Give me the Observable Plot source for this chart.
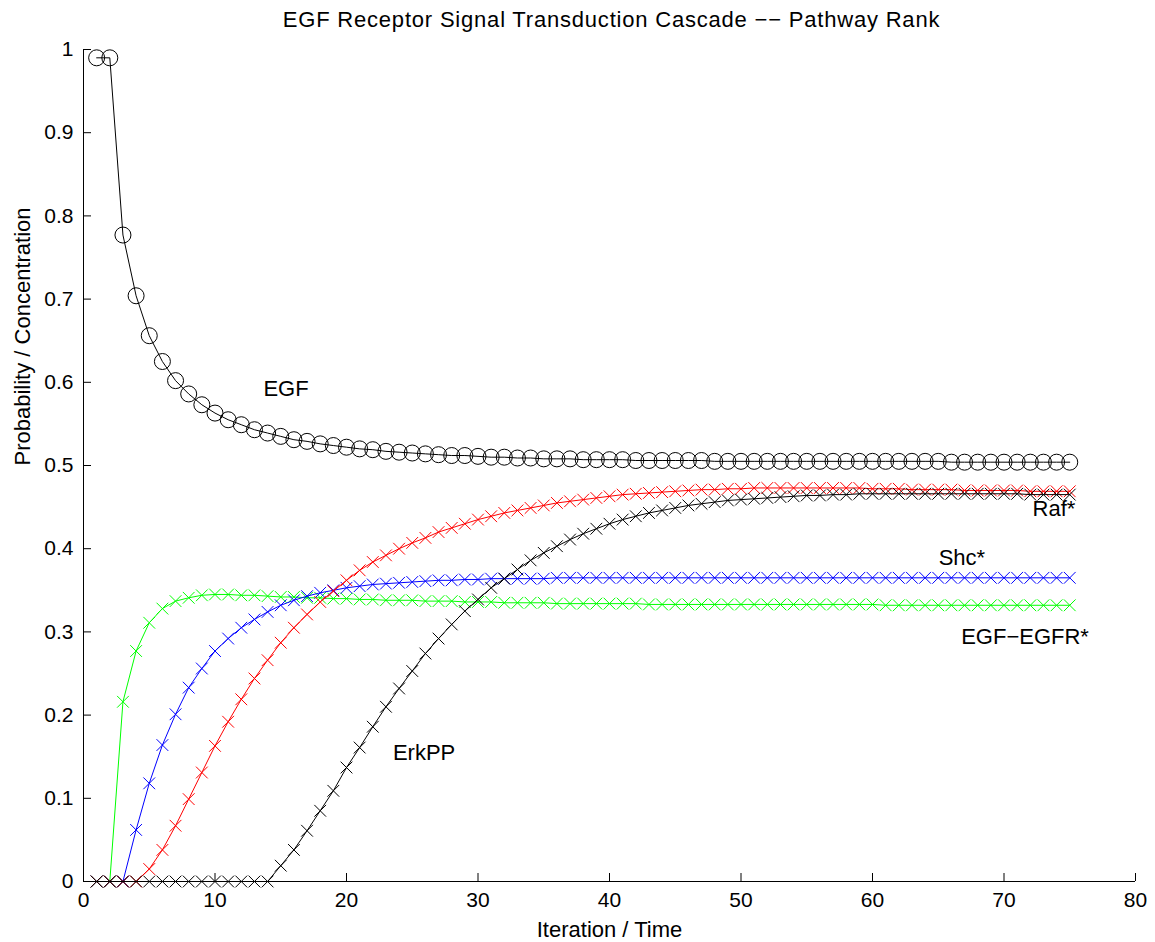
<!DOCTYPE html>
<html>
<head>
<meta charset="utf-8">
<script src="https://cdn.jsdelivr.net/npm/d3@7"></script>
<script src="https://cdn.jsdelivr.net/npm/@observablehq/plot@0.6"></script>
<style>
  html, body { margin: 0; padding: 0; background: #fff; }
  #title { box-sizing: border-box; width: 1155px; height: 40px; padding: 9px 0 0 68px; text-align: center;
           font: 22px/21px "Liberation Sans", Arial, sans-serif; letter-spacing: 0.8px; color: #000; }
  svg { overflow: visible; }
</style>
</head>
<body>
<div id="title">EGF Receptor Signal Transduction Cascade −− Pathway Rank</div>
<div id="chart"></div>
<script>
const iterations = d3.range(1, 76);

const egf = [0.990,0.990,0.777,0.704,0.656,0.625,0.602,0.586,0.573,0.563,
  0.555,0.549,0.543,0.539,0.535,0.531,0.529,0.526,0.524,0.522,
  0.520,0.519,0.517,0.516,0.515,0.514,0.513,0.512,0.512,0.511,
  0.510,0.510,0.509,0.509,0.508,0.508,0.508,0.507,0.507,0.507,
  0.507,0.506,0.506,0.506,0.506,0.506,0.506,0.505,0.505,0.505,
  0.505,0.505,0.505,0.505,0.505,0.505,0.505,0.505,0.505,0.505,
  0.505,0.505,0.505,0.505,0.505,0.504,0.504,0.504,0.504,0.504,
  0.504,0.504,0.504,0.504,0.504];

const egfEgfr = [0,0,0.216,0.277,0.311,0.328,0.337,0.341,0.344,0.345,
  0.345,0.344,0.344,0.343,0.342,0.342,0.341,0.341,0.340,0.340,
  0.339,0.339,0.338,0.338,0.338,0.337,0.337,0.337,0.336,0.336,
  0.336,0.335,0.335,0.335,0.335,0.334,0.334,0.334,0.334,0.334,
  0.334,0.334,0.333,0.333,0.333,0.333,0.333,0.333,0.333,0.333,
  0.333,0.333,0.333,0.333,0.333,0.333,0.333,0.333,0.333,0.333,
  0.332,0.332,0.332,0.332,0.332,0.332,0.332,0.332,0.332,0.332,
  0.332,0.332,0.332,0.332,0.332];

const shc = [0,0,0,0.062,0.118,0.164,0.201,0.233,0.256,0.277,
  0.292,0.305,0.315,0.324,0.332,0.338,0.343,0.347,0.350,0.353,
  0.355,0.357,0.358,0.359,0.360,0.361,0.362,0.362,0.363,0.363,
  0.364,0.364,0.364,0.364,0.364,0.365,0.365,0.365,0.365,0.365,
  0.365,0.365,0.365,0.365,0.365,0.365,0.365,0.365,0.365,0.365,
  0.365,0.365,0.365,0.365,0.365,0.365,0.365,0.365,0.365,0.365,
  0.365,0.365,0.365,0.365,0.365,0.365,0.365,0.365,0.365,0.365,
  0.365,0.365,0.365,0.365,0.365];

const raf = [0,0,0,0,0.015,0.038,0.067,0.099,0.131,0.163,
  0.192,0.219,0.244,0.266,0.287,0.305,0.321,0.336,0.349,0.362,
  0.374,0.384,0.392,0.400,0.407,0.413,0.420,0.425,0.430,0.435,
  0.439,0.443,0.446,0.449,0.452,0.455,0.457,0.459,0.461,0.463,
  0.465,0.466,0.467,0.468,0.469,0.470,0.471,0.471,0.472,0.472,
  0.473,0.473,0.473,0.473,0.473,0.473,0.473,0.473,0.473,0.472,
  0.472,0.472,0.471,0.471,0.471,0.471,0.470,0.470,0.470,0.470,
  0.470,0.469,0.469,0.469,0.469];

const erkpp = [0,0,0,0,0,0,0,0,0,0,
  0,0,0,0,0.019,0.038,0.061,0.085,0.109,0.137,
  0.161,0.186,0.210,0.232,0.253,0.274,0.292,0.309,0.325,0.339,
  0.353,0.364,0.375,0.386,0.395,0.403,0.411,0.418,0.424,0.430,
  0.435,0.439,0.443,0.446,0.449,0.452,0.454,0.456,0.458,0.459,
  0.460,0.461,0.462,0.463,0.464,0.464,0.465,0.465,0.466,0.466,
  0.466,0.466,0.466,0.466,0.466,0.466,0.466,0.466,0.466,0.466,
  0.466,0.465,0.465,0.465,0.465];

const seriesNames  = ["EGF", "EGF−EGFR*", "Shc*", "Raf*", "ErkPP"];
const seriesValues = [egf, egfEgfr, shc, raf, erkpp];
const seriesColors = ["#000000", "#00ff00", "#0000ff", "#ff0000", "#000000"];
const seriesSymbols = ["circle", "times", "times", "times", "times"];

const labelNames = ["EGF", "Raf*", "Shc*", "EGF−EGFR*", "ErkPP"];
const labelX = [15.4, 73.8, 66.8, 71.6, 25.9];
const labelY = [0.592, 0.448, 0.389, 0.294, 0.155];

const xTicks = [0, 10, 20, 30, 40, 50, 60, 70, 80];
const yTicks = [0, 0.1, 0.2, 0.3, 0.4, 0.5, 0.6, 0.7, 0.8, 0.9, 1];
const yTickLabels = ["0", "0.1", "0.2", "0.3", "0.4", "0.5", "0.6", "0.7", "0.8", "0.9", "1"];

const font = "Liberation Sans, Arial, sans-serif";

const lineMarks = [];
seriesNames.forEach((name, s) => {
  const rows = iterations.map((x, i) => ({x, y: seriesValues[s][i], series: name}));
  lineMarks.push(Plot.line(rows, {x: "x", y: "y", stroke: seriesColors[s], strokeWidth: 1}));
  lineMarks.push(Plot.dot(rows, {
    x: "x", y: "y", stroke: seriesColors[s], strokeWidth: 1, fill: "none",
    symbol: seriesSymbols[s], r: seriesSymbols[s] === "circle" ? 8 : 5.4
  }));
});

const labels = labelNames.map((t, i) => ({t, x: labelX[i], y: labelY[i]}));

const chart = Plot.plot({
  width: 1155,
  height: 902,
  marginLeft: 83,
  marginRight: 20,
  marginTop: 9,
  marginBottom: 61,
  style: {fontFamily: font, background: "#fff", color: "#000"},
  x: {domain: [0, 80]},
  y: {domain: [0, 1]},
  marks: [
    Plot.axisX({ticks: xTicks, tickSize: -8, tickPadding: 19, fontSize: 21, label: null, tickFormat: d => String(d)}),
    Plot.axisY({ticks: yTicks, tickSize: -8, tickPadding: 18, fontSize: 21, label: null,
                tickFormat: d => yTickLabels[yTicks.indexOf(d)]}),
    Plot.ruleX([0], {stroke: "#000", strokeWidth: 1}),
    Plot.ruleY([0], {stroke: "#000", strokeWidth: 1}),
    ...lineMarks,
    Plot.text(labels, {x: "x", y: "y", text: "t", fontSize: 22, fill: "#000", textAnchor: "middle", lineAnchor: "middle"}),
    Plot.text(["Iteration / Time"], {frameAnchor: "bottom", dy: 48, fontSize: 22, fill: "#000", lineAnchor: "middle"}),
    Plot.text(["Probability / Concentration"], {frameAnchor: "left", dx: -61, rotate: -90, fontSize: 22, fill: "#000", lineAnchor: "middle"})
  ]
});
document.getElementById("chart").appendChild(chart);
</script>
</body>
</html>
